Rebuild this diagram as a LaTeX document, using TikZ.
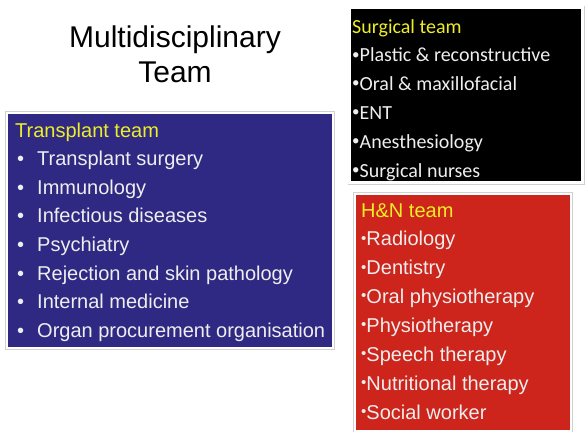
\documentclass[tikz,border=0pt]{standalone}
\usepackage{fontspec}
\setmainfont{Liberation Sans}
\newfontfamily\surgfont{Carlito}
\definecolor{txblue}{RGB}{47,41,131}
\definecolor{hnred}{RGB}{205,36,27}
\definecolor{headyellow}{RGB}{238,238,40}
\definecolor{itemwhite}{RGB}{238,238,238}
\newcommand{\tinydot}{\raisebox{0.14em}{\fontsize{15}{15}\selectfont •}}
\tikzset{
  teambox/.style={rectangle, inner sep=0pt, fill=#1, draw=white, line width=2.2pt,
    preaction={draw=black!18, line width=4pt}},
  heading/.style={anchor=base west, inner sep=0pt, text=headyellow},
  entry/.style={anchor=base west, inner sep=0pt, text=itemwhite},
}
\begin{document}
\begin{tikzpicture}[x=1pt,y=-1pt]
\useasboundingbox (0,0) rectangle (585,431);
{\fontsize{30}{35}\selectfont

% Title
\node [anchor=base, inner sep=0pt] (title1) at (175,47) {Multidisciplinary};
\node [anchor=base, inner sep=0pt] (title2) at (175,82) {Team};
}

{\fontsize{20}{24}\selectfont

% Transplant team box
\node [teambox=txblue, minimum width=326pt, minimum height=235pt] (transplant) at (170,230.5) {};
\node [heading] (transplant-head) at (15,137) {Transplant team};
\foreach \txt [count=\i] in {Transplant surgery, Immunology, Infectious diseases, Psychiatry,
    Rejection and skin pathology, Internal medicine, Organ procurement organisation} {
  \node [entry] (transplant-dot-\i) at (17,137+\i*28.6) {•};
  \node [entry] (transplant-\i) at (37,137+\i*28.6) {\txt};
}

% H&N team box
\node [teambox=hnred, minimum width=216pt, minimum height=237pt] (hn) at (463,312.5) {};
\node [heading] (hn-head) at (361,217) {H\&N team};
\foreach \txt [count=\i] in {Radiology, Dentistry, Oral physiotherapy, Physiotherapy,
    Speech therapy, Nutritional therapy, Social worker} {
  \node [entry] (hn-\i) at (361,217+\i*28.9) {\tinydot\txt};
}
}

{\fontsize{20}{24}\surgfont

% Surgical team box
\node [teambox=black, minimum width=233pt, minimum height=175pt] (surgical) at (466,95) {};
\node [heading] (surgical-head) at (352,33) {Surgical team};
\foreach \txt [count=\i] in {Plastic \& reconstructive, Oral \& maxillofacial, ENT,
    Anesthesiology, Surgical nurses} {
  \node [entry] (surgical-\i) at (352,33+\i*28.8) {\tinydot\txt};
}
}
\end{tikzpicture}
\end{document}
